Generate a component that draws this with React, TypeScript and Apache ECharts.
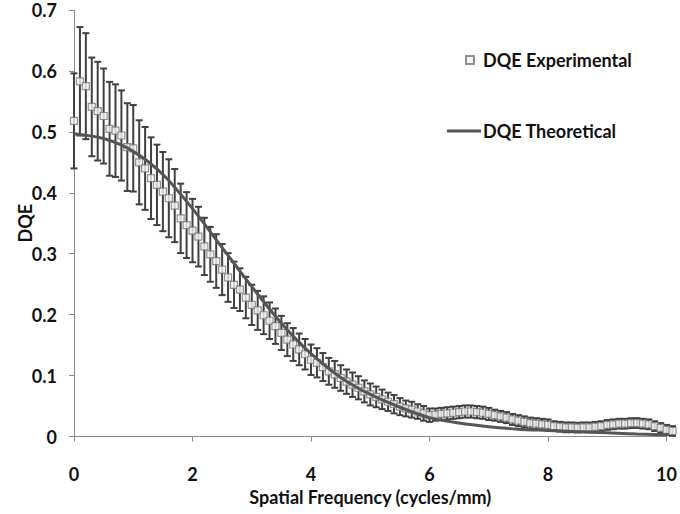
import React, { useEffect, useRef } from "react";
import * as echarts from "echarts";

const frequency = [
  0.0, 0.1, 0.2, 0.3, 0.4, 0.5, 0.6, 0.7, 0.8, 0.9,
  1.0, 1.1, 1.2, 1.3, 1.4, 1.5, 1.6, 1.7, 1.8, 1.9,
  2.0, 2.1, 2.2, 2.3, 2.4, 2.5, 2.6, 2.7, 2.8, 2.9,
  3.0, 3.1, 3.2, 3.3, 3.4, 3.5, 3.6, 3.7, 3.8, 3.9,
  4.0, 4.1, 4.2, 4.3, 4.4, 4.5, 4.6, 4.7, 4.8, 4.9,
  5.0, 5.1, 5.2, 5.3, 5.4, 5.5, 5.6, 5.7, 5.8, 5.9,
  6.0, 6.1, 6.2, 6.3, 6.4, 6.5, 6.6, 6.7, 6.8, 6.9,
  7.0, 7.1, 7.2, 7.3, 7.4, 7.5, 7.6, 7.7, 7.8, 7.9,
  8.0, 8.1, 8.2, 8.3, 8.4, 8.5, 8.6, 8.7, 8.8, 8.9,
  9.0, 9.1, 9.2, 9.3, 9.4, 9.5, 9.6, 9.7, 9.8, 9.9,
  10.0, 10.1,
];

const dqeExperimental = [
  0.518, 0.583, 0.575, 0.541, 0.534, 0.526, 0.505, 0.502, 0.494, 0.475,
  0.473, 0.450, 0.440, 0.424, 0.413, 0.402, 0.391, 0.379, 0.358, 0.347,
  0.338, 0.328, 0.312, 0.299, 0.288, 0.274, 0.261, 0.249, 0.241, 0.228,
  0.216, 0.207, 0.199, 0.190, 0.181, 0.170, 0.159, 0.151, 0.143, 0.135,
  0.126, 0.121, 0.114, 0.107, 0.102, 0.096, 0.090, 0.085, 0.080, 0.074,
  0.069, 0.065, 0.061, 0.057, 0.053, 0.049, 0.046, 0.044, 0.041, 0.038,
  0.035, 0.036, 0.037, 0.038, 0.039, 0.040, 0.041, 0.041, 0.040, 0.039,
  0.037, 0.035, 0.033, 0.031, 0.028, 0.026, 0.024, 0.022, 0.021, 0.020,
  0.019, 0.017, 0.016, 0.015, 0.015, 0.0145, 0.015, 0.015, 0.016, 0.017,
  0.019, 0.020, 0.021, 0.021, 0.022, 0.022, 0.021, 0.020, 0.017, 0.014,
  0.011, 0.009,
];

const dqeError = [
  0.078, 0.089, 0.087, 0.081, 0.081, 0.078, 0.077, 0.076, 0.074, 0.072,
  0.071, 0.069, 0.068, 0.067, 0.066, 0.065, 0.064, 0.060, 0.057, 0.054,
  0.052, 0.049, 0.047, 0.045, 0.044, 0.042, 0.040, 0.038, 0.035, 0.034,
  0.033, 0.032, 0.031, 0.030, 0.029, 0.028, 0.027, 0.027, 0.026, 0.025,
  0.025, 0.024, 0.023, 0.022, 0.022, 0.021, 0.020, 0.020, 0.019, 0.018,
  0.018, 0.017, 0.016, 0.015, 0.015, 0.014, 0.013, 0.013, 0.012, 0.012,
  0.011, 0.010, 0.010, 0.010, 0.010, 0.010, 0.010, 0.010, 0.010, 0.010,
  0.010, 0.009, 0.009, 0.009, 0.009, 0.009, 0.009, 0.009, 0.009, 0.009,
  0.009, 0.008, 0.008, 0.008, 0.008, 0.008, 0.008, 0.008, 0.008, 0.008,
  0.008, 0.008, 0.008, 0.008, 0.008, 0.008, 0.008, 0.008, 0.008, 0.008,
  0.008, 0.008,
];

const theoFrequency = [
  0.0, 0.5, 1.0, 1.5, 2.0, 2.5, 3.0, 3.5, 4.0, 4.5,
  5.0, 5.5, 6.0, 6.5, 7.0, 7.5, 8.0, 8.5, 9.0, 9.5, 10.0, 10.1,
];
const dqeTheoretical = [
  0.497, 0.489, 0.468, 0.430, 0.374, 0.310, 0.246, 0.186, 0.136, 0.097,
  0.069, 0.048, 0.031, 0.022, 0.016, 0.012, 0.010, 0.008, 0.006, 0.004, 0.003, 0.003,
];

const xTicks = [0, 2, 4, 6, 8, 10];
const yTicks = [0, 0.1, 0.2, 0.3, 0.4, 0.5, 0.6, 0.7];

const FONT = "Lato";

export default function App() {
  const ref = useRef<HTMLDivElement>(null);

  useEffect(() => {
    document.body.style.margin = "0";
    if (!ref.current) return;
    const chart = echarts.init(ref.current, undefined, { renderer: "svg" });

    const expData = frequency.map((f, i) => [f, dqeExperimental[i]]);
    const errData = frequency.map((f, i) => [
      f,
      dqeExperimental[i] - dqeError[i],
      dqeExperimental[i] + dqeError[i],
    ]);
    const theoData = theoFrequency.map((f, i) => [f, dqeTheoretical[i]]);

    const barColor = "#404040";
    const labelStyle = { fontFamily: FONT, fontWeight: "bold", fontSize: 18, color: "#111" };

    chart.setOption({
      animation: false,
      backgroundColor: "#ffffff",
      grid: { left: 74, right: 12.5, top: 10, bottom: 77.5, containLabel: false },
      legend: [
        {
          data: ["DQE Experimental"],
          left: 460,
          top: 46,
          itemWidth: 8,
          itemHeight: 8,
          textStyle: { ...labelStyle, padding: [0, 0, 0, 4] },
        },
        {
          data: [{ name: "DQE Theoretical", icon: "rect" }],
          left: 442,
          top: 117,
          itemWidth: 34,
          itemHeight: 3,
          textStyle: { ...labelStyle, padding: [0, 0, 0, -3] },
        },
      ],
      xAxis: {
        type: "value",
        min: 0,
        max: 10,
        interval: 2,
        name: "Spatial Frequency (cycles/mm)",
        nameLocation: "middle",
        nameGap: 51,
        nameMoveOverlap: false,
        nameTextStyle: labelStyle,
        axisLine: { lineStyle: { color: "#8a8a8a", width: 1 } },
        axisTick: { show: true, length: 5, lineStyle: { color: "#8a8a8a" } },
        axisLabel: {
          ...labelStyle,
          margin: 28,
          formatter: (v: number) => (xTicks.includes(v) ? String(v) : ""),
        },
        splitLine: { show: false },
      },
      yAxis: {
        type: "value",
        min: 0,
        max: 0.7,
        interval: 0.1,
        name: "DQE",
        nameLocation: "middle",
        nameGap: 40,
        nameMoveOverlap: false,
        nameTextStyle: labelStyle,
        axisLine: { show: true, lineStyle: { color: "#8a8a8a", width: 1 } },
        axisTick: { show: true, length: 5, lineStyle: { color: "#8a8a8a" } },
        axisLabel: {
          ...labelStyle,
          margin: 17,
          formatter: (v: number) => {
            const t = yTicks.find((y) => Math.abs(y - v) < 1e-6);
            return t === undefined ? "" : t === 0 ? "0" : t.toFixed(1);
          },
        },
        splitLine: { show: false },
      },
      series: [
        {
          name: "DQE Error",
          type: "custom",
          z: 2,
          clip: false,
          data: errData,
          encode: { x: 0, y: [1, 2] },
          renderItem: (params: any, api: any) => {
            const x = api.value(0);
            const lo = api.coord([x, api.value(1)]);
            const hi = api.coord([x, api.value(2)]);
            const hw = 3.5;
            const st = { stroke: barColor, lineWidth: 2 };
            return {
              type: "group",
              children: [
                { type: "line", shape: { x1: lo[0], y1: lo[1], x2: hi[0], y2: hi[1] }, style: st },
                { type: "line", shape: { x1: lo[0] - hw, y1: lo[1], x2: lo[0] + hw, y2: lo[1] }, style: st },
                { type: "line", shape: { x1: hi[0] - hw, y1: hi[1], x2: hi[0] + hw, y2: hi[1] }, style: st },
              ],
            };
          },
        },
        {
          name: "DQE Experimental",
          type: "scatter",
          z: 3,
          clip: false,
          symbol: "rect",
          symbolSize: 7,
          data: expData,
          itemStyle: { color: "#f2f2f2", borderColor: "#777777", borderWidth: 1.2 },
        },
        {
          name: "DQE Theoretical",
          type: "line",
          z: 4,
          clip: false,
          smooth: 0.3,
          symbol: "none",
          showSymbol: false,
          data: theoData,
          lineStyle: { color: "#555555", width: 3 },
          itemStyle: { color: "#555555" },
        },
      ],
    });

    return () => chart.dispose();
  }, []);

  return <div ref={ref} style={{ width: 680, height: 514 }} />;
}
